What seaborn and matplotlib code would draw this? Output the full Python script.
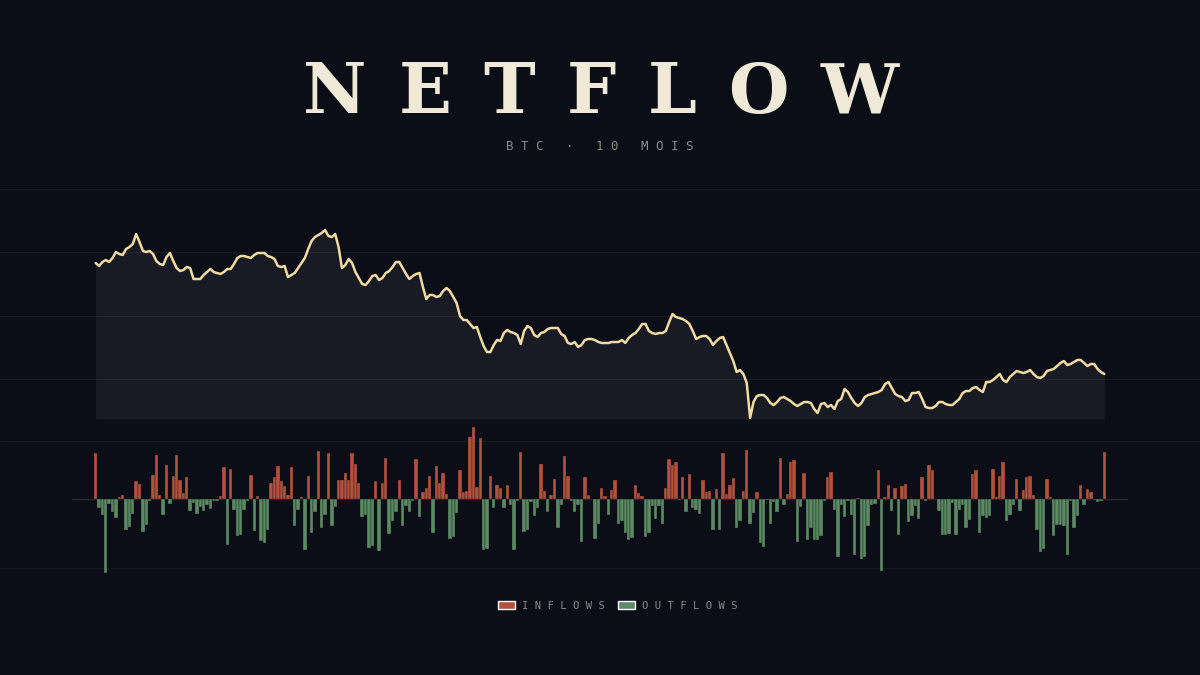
import numpy as np
import pandas as pd
import matplotlib
matplotlib.use("Agg")
import matplotlib.pyplot as plt
from matplotlib.patches import Patch
import seaborn as sns

# BTC price (index) - one value per day, 300 days
price = [
    156, 153, 157, 159, 157, 161, 167, 165, 164, 170, 172, 175, 185, 177, 168, 167, 168, 165, 158, 155, 154, 162, 166, 158, 151,
    148, 149, 152, 151, 140, 140, 140, 144, 147, 150, 147, 146, 145, 147, 150, 150, 155, 161, 163, 163, 162, 161, 164, 166, 166,
    166, 163, 162, 160, 153, 152, 153, 142, 144, 146, 151, 156, 161, 170, 178, 182, 184, 186, 189, 183, 182, 185, 172, 151, 154,
    160, 156, 147, 141, 135, 134, 138, 143, 144, 139, 141, 146, 148, 152, 157, 157, 151, 145, 140, 143, 145, 146, 132, 120, 124,
    124, 122, 123, 128, 131, 128, 122, 116, 103, 99, 99, 95, 91, 92, 82, 73, 67, 67, 74, 79, 78, 86, 89, 87, 86,
    84, 75, 88, 93, 91, 84, 82, 86, 87, 90, 91, 91, 91, 85, 83, 76, 75, 77, 72, 74, 79, 80, 80, 79, 77,
    76, 76, 76, 77, 77, 77, 79, 76, 81, 84, 86, 90, 95, 95, 88, 86, 85, 86, 86, 88, 97, 105, 102, 101, 100,
    98, 95, 88, 80, 82, 83, 83, 80, 74, 78, 81, 82, 74, 66, 58, 47, 49, 45, 36, 1, 17, 23, 24, 24, 21,
    16, 14, 17, 21, 22, 20, 18, 15, 13, 15, 17, 17, 16, 10, 6, 15, 16, 12, 14, 10, 18, 20, 30, 27, 21,
    16, 13, 16, 22, 24, 25, 26, 27, 29, 35, 37, 31, 25, 23, 22, 18, 19, 26, 26, 27, 20, 12, 11, 11, 13,
    17, 17, 15, 14, 14, 17, 20, 26, 28, 28, 31, 32, 29, 27, 37, 37, 39, 42, 45, 39, 37, 42, 45, 48, 47,
    46, 47, 49, 45, 42, 41, 43, 48, 49, 50, 53, 56, 58, 54, 55, 57, 59, 59, 56, 53, 55, 55, 50, 47, 45,
]

# daily net flow: positive = inflows, negative = outflows
netflow = [
    46, -9, -16, -74, -5, -13, -19, 2, 4, -31, -28, -15, 18, 15, -33, -26, -2, 24, 44, 4, -16, 34, -5, 23, 44,
    19, 6, 22, -12, -4, -15, -8, -12, -6, -10, -2, -2, 3, 32, -46, 30, -11, -37, -36, -11, -2, 24, -32, 3, -42,
    -44, -31, 16, 22, 33, 18, 13, 4, 32, -27, -11, 2, -51, 23, -34, -13, 48, -29, -16, 46, -27, -8, 19, 19, 26,
    19, 46, 35, 16, -18, -16, -49, -47, 18, -52, 16, 41, -35, -22, -13, 19, -27, -7, -13, -2, 40, -18, 7, 11, 23,
    -34, 33, 16, 26, 5, -40, -38, -14, 29, 7, 8, 62, 72, 12, 61, -51, -50, 23, -9, 14, 11, -9, 14, -6, -51,
    -2, 47, -33, -31, -3, -17, -9, 35, 8, -13, 4, 20, -29, -6, 43, 23, -2, -13, -6, -43, 22, 4, 0, -40, -25,
    11, 3, -16, 9, 19, -25, -22, -34, -41, -39, 14, 6, 3, -38, -34, -7, -20, -7, -25, 11, 40, 34, 37, -1, 22,
    -13, 25, -9, -11, -15, 19, 7, 8, -31, 10, -31, 46, 5, 14, 21, -29, -22, 8, 49, -25, -14, 7, -44, -48, -1,
    -25, -3, -13, 41, -6, 5, 37, 39, -43, -8, 26, -41, -29, -41, -41, -37, -2, 22, 27, -11, -58, -6, -18, -2, -16,
    -56, 1, -60, -58, -27, -6, -5, 29, -72, 2, 14, -12, 11, -36, 13, 15, -23, -17, -7, -20, 22, -2, 34, 29, 0,
    -12, -36, -36, -35, -4, -36, -11, -6, -29, -21, 25, 29, -34, -17, -19, -17, 30, 2, 23, 37, -22, -16, -6, 20, -12,
    9, 22, 23, 4, -31, -53, -50, 20, 2, -37, -26, -26, -27, -56, -2, -29, -17, 14, -6, 10, 7, -1, -3, -2, 47,
]

TITLE = "NETFLOW"
SUBTITLE = "BTC · 10 MOIS"
LABELS = ["INFLOWS", "OUTFLOWS"]

BG = "#0b0e16"
CREAM = "#f1e9d8"
GOLD = "#f2dba0"
RED = "#b4513d"
GREEN = "#5b8a63"
GREY = "#8a8a8a"


def spaced(s):
    return " ".join(s)


days = np.arange(len(price))
df = pd.DataFrame({"day": days, "price": price, "flow": netflow})
df["type"] = np.where(df["flow"] >= 0, LABELS[0], LABELS[1])

sns.set_theme(style="dark")
plt.rcParams["font.family"] = ["DejaVu Sans"]

fig = plt.figure(figsize=(12, 6.75), dpi=100, facecolor=BG)

# faint horizontal guide lines across the whole figure
ax_bg = fig.add_axes([0, 0, 1, 1], facecolor=BG)
ax_bg.set_xlim(0, 1200)
ax_bg.set_ylim(675, 0)
for y in [189, 252, 316, 379, 441, 568]:
    ax_bg.axhline(y, color="#151a23", lw=0.8)
ax_bg.axis("off")

# price panel
ax_p = fig.add_axes([94 / 1200, 256 / 675, 1012 / 1200, 199 / 675])
ax_p.patch.set_alpha(0)
ax_p.fill_between(df["day"], df["price"], 0, color="#c8cbd8", alpha=0.07, lw=0)
sns.lineplot(data=df, x="day", y="price", color=GOLD, lw=1.8, ax=ax_p)
ax_p.set_xlim(-0.5, len(price) - 0.5)
ax_p.set_ylim(0, 199)
ax_p.axis("off")

# flows panel
ax_f = fig.add_axes([72 / 1200, 95 / 675, 1056 / 1200, 160 / 675])
ax_f.patch.set_alpha(0)
sns.barplot(data=df, x="day", y="flow", hue="type", native_scale=True, dodge=False,
            palette={LABELS[0]: RED, LABELS[1]: GREEN}, width=1, saturation=1,
            edgecolor=BG, linewidth=0.25, legend=False, ax=ax_f)
ax_f.axhline(0, color="#2a2f38", lw=0.8, zorder=0)
ax_f.set_xlim(-7.02, len(price) - 0.5 + 6.52)
ax_f.set_ylim(-81, 79)
ax_f.axis("off")

# title with wide tracking: letters placed one by one
renderer = fig.canvas.get_renderer()
letters = [fig.text(0, 1 - 113 / 675, ch, ha="left", va="baseline", color=CREAM,
                    fontsize=50, fontweight="bold", family="DejaVu Serif") for ch in TITLE]
widths = [t.get_window_extent(renderer).width for t in letters]
left, right = 303, 899
gap = (right - left - sum(widths)) / (len(TITLE) - 1)
x = left
for t, w in zip(letters, widths):
    t.set_x(x / 1200)
    x += w + gap

fig.text(0.5, 1 - 147 / 675, spaced(SUBTITLE), ha="center", va="center",
         color=GREY, fontsize=9, family="DejaVu Sans Mono")

# legend
handles = [Patch(facecolor=RED, label=spaced(LABELS[0])),
           Patch(facecolor=GREEN, label=spaced(LABELS[1]))]
leg = fig.legend(handles=handles, loc="center", bbox_to_anchor=(0.5 + 18 / 1200, 1 - 606 / 675), ncol=2,
                 frameon=False, handlelength=1.6, handleheight=0.8, handletextpad=0.7,
                 columnspacing=1.2, prop={"family": "DejaVu Sans Mono", "size": 7.6})
for t in leg.get_texts():
    t.set_color(GREY)

fig.savefig("out.png", dpi=100, facecolor=BG)
